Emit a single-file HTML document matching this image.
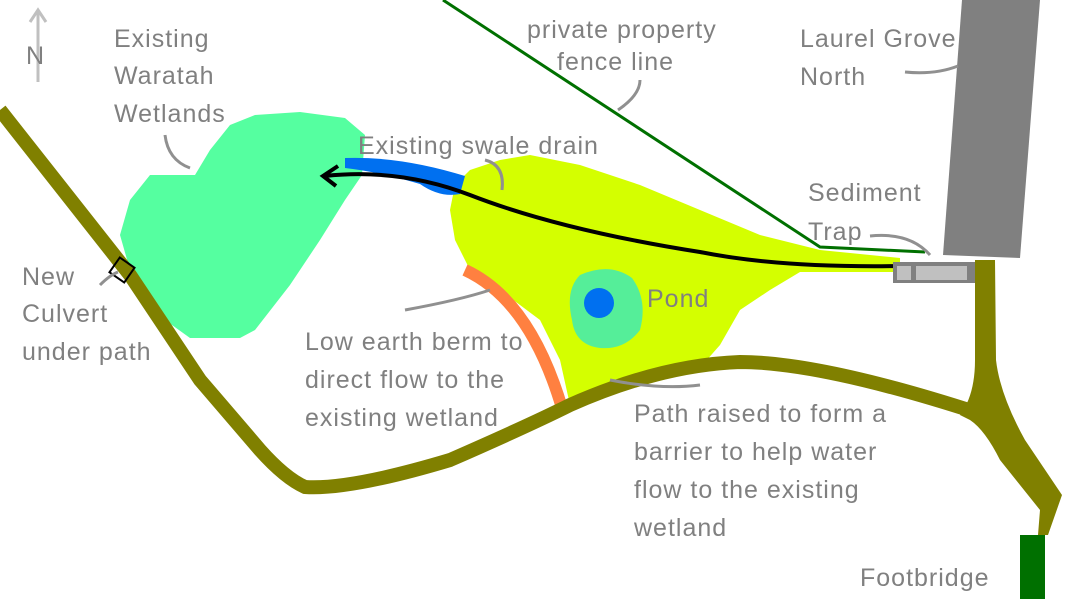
<!DOCTYPE html>
<html><head><meta charset="utf-8"><style>
html,body{margin:0;padding:0;background:#fff;}
svg{display:block;}
text{font-family:"Liberation Sans",sans-serif;fill:#808080;font-size:25px;letter-spacing:1px;}
</style></head><body>
<svg width="1067" height="599" viewBox="0 0 1067 599" xmlns="http://www.w3.org/2000/svg">
<rect width="1067" height="599" fill="#fff"/>
<!-- wetland -->
<path d="M255,115 L300,112 L345,118 L365,135 L362,175 L345,200 L320,240 L290,285 L255,330 L240,338 L190,338 L165,320 L130,270 L120,235 L130,200 L150,175 L195,175 L210,150 L230,125 Z" fill="#55ffa0"/>
<!-- yellow area -->
<path d="M455,185 L470,170 L500,160 L530,155 L580,165 L640,185 L700,210 L760,235 L820,250 L900,258 L900,272 L800,272 L770,290 L740,310 L720,345 L705,362 L640,378 L600,392 L570,405 L560,360 L540,320 L500,290 L470,270 L455,240 L450,210 Z" fill="#d4ff00"/>
<!-- pond -->
<path d="M580,275 Q610,262 632,278 Q648,300 640,330 Q625,350 600,348 Q575,345 572,320 Q565,290 580,275 Z" fill="#55ee99"/>
<circle cx="599" cy="303" r="15" fill="#0070f0"/>
<!-- berm -->
<path d="M465,270 Q530,300 562,408" fill="none" stroke="#ff8040" stroke-width="12"/>
<!-- path -->
<path d="M0,110 L130,275 L200,380 L260,450 Q285,478 305,487 Q350,490 450,460 Q530,425 570,405 Q660,365 740,362 Q820,362 975,412" fill="none" stroke="#808000" stroke-width="14"/>
<path d="M975,260 L995,260 L996,360 Q1000,395 1025,440 L1062,495 L1048,535 L1038,535 L1040,510 L1000,460 Q985,430 970,420 L960,415 Q975,395 975,360 Z" fill="#808000"/>
<rect x="1020" y="535" width="25" height="64" fill="#007000"/>
<!-- building -->
<polygon points="962,0 1040,0 1020,258 943,255" fill="#808080"/>
<!-- fence -->
<polyline points="443,0 820,247 925,252" fill="none" stroke="#007000" stroke-width="3"/>
<!-- swale -->
<path d="M345,158 Q400,156 465,176 L460,194 Q440,198 420,184 Q380,172 345,168 Z" fill="#0070f0"/>
<!-- black flow line -->
<path d="M325,176 Q400,168 470,195 Q560,230 700,252 Q780,268 900,266" fill="none" stroke="#000" stroke-width="4"/>
<path d="M338,166 L323,176 L336,186" fill="none" stroke="#000" stroke-width="4"/>
<!-- sediment trap -->
<rect x="893" y="262" width="82" height="21" fill="#808080"/>
<rect x="897" y="266" width="14" height="14" fill="#c0c0c0"/>
<rect x="916" y="266" width="51" height="14" fill="#c0c0c0"/>
<!-- culvert -->
<rect x="113" y="261" width="18" height="18" fill="none" stroke="#000" stroke-width="2" transform="rotate(35 122 270)"/>
<!-- N arrow -->
<path d="M38,82 L38,10 M30,22 L38,10 L46,22" fill="none" stroke="#c0c0c0" stroke-width="3"/>
<text x="26" y="64" font-size="24">N</text>
<!-- small label arrows -->
<g fill="none" stroke="#909090" stroke-width="3">
<path d="M165,135 Q168,160 190,168"/>
<path d="M485,160 Q505,165 502,190"/>
<path d="M905,72 Q935,75 958,66"/>
<path d="M870,236 Q910,232 930,255"/>
<path d="M618,110 Q640,95 640,80"/>
<path d="M100,285 Q110,275 118,272"/>
<path d="M405,310 Q460,300 490,290"/>
<path d="M610,380 Q660,390 700,385"/>
</g>
<!-- labels -->
<text x="114" y="47">Existing</text>
<text x="114" y="84">Waratah</text>
<text x="114" y="122">Wetlands</text>
<text x="527" y="38" font-size="22">private property</text>
<text x="557" y="70" font-size="22">fence line</text>
<text x="800" y="47">Laurel Grove</text>
<text x="800" y="85">North</text>
<text x="358" y="154">Existing swale drain</text>
<text x="808" y="201">Sediment</text>
<text x="808" y="240">Trap</text>
<text x="22" y="285">New</text>
<text x="22" y="322">Culvert</text>
<text x="22" y="360">under path</text>
<text x="647" y="307">Pond</text>
<text x="305" y="350">Low earth berm to</text>
<text x="305" y="388">direct flow to the</text>
<text x="305" y="426">existing wetland</text>
<text x="634" y="422">Path raised to form a</text>
<text x="634" y="460">barrier to  help  water</text>
<text x="634" y="498">flow to the existing</text>
<text x="634" y="536">wetland</text>
<text x="860" y="586">Footbridge</text>
</svg>
</body></html>
